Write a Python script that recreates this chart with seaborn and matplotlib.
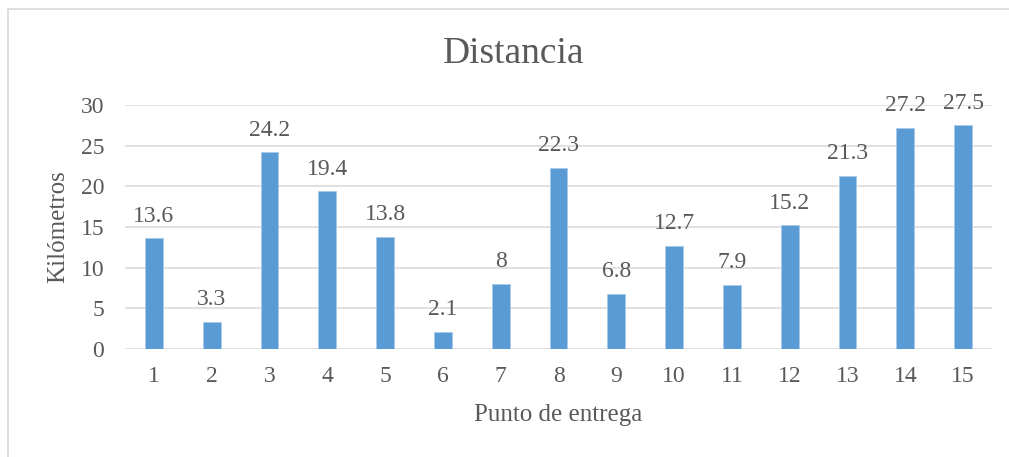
import matplotlib
matplotlib.use("Agg")
import matplotlib.pyplot as plt
from matplotlib.patches import Rectangle
import seaborn as sns
import pandas as pd

# Delivery points and distances (km)
puntos = ["1", "2", "3", "4", "5", "6", "7", "8", "9", "10", "11", "12", "13", "14", "15"]
distancias = [13.6, 3.3, 24.2, 19.4, 13.8, 2.1, 8, 22.3, 6.8, 12.7, 7.9, 15.2, 21.3, 27.2, 27.5]
etiquetas = ["13.6", "3.3", "24.2", "19.4", "13.8", "2.1", "8", "22.3", "6.8", "12.7",
             "7.9", "15.2", "21.3", "27.2", "27.5"]
yticks = [0, 5, 10, 15, 20, 25, 30]

df = pd.DataFrame({"Punto": puntos, "Km": distancias})

sns.set_theme(style="white")
plt.rcParams["font.family"] = ["Liberation Serif", "DejaVu Serif"]

TXT = "#595959"
GRID = "#D9D9D9"
BAR = "#5B9BD5"

W, H = 1009, 457
fig = plt.figure(figsize=(W / 100, H / 100), dpi=100)
fig.patch.set_facecolor("white")

# chart-area outline (top and left edges visible)
fig.patches.append(Rectangle((8 / W, -0.1), 1.2, 1 - 9 / H + 0.1,
                             transform=fig.transFigure, fill=False,
                             edgecolor=GRID, linewidth=1.2))

left, right, top, bottom = 125, 992, 105, 349
ax = fig.add_axes([left / W, 1 - bottom / H, (right - left) / W, (bottom - top) / H])

sns.barplot(data=df, x="Punto", y="Km", color=BAR, saturation=1, width=0.31,
            edgecolor="#A9C9EA", linewidth=0.6, ax=ax, zorder=3)

ax.set_ylim(0, 30)
ax.set_xlim(-0.5, len(puntos) - 0.5)
ax.set_yticks(yticks)
ax.set_yticklabels([str(t) for t in yticks])
for y in yticks:
    ax.axhline(y, color=GRID, linewidth=1.1, zorder=1)

for s in ax.spines.values():
    s.set_visible(False)
ax.tick_params(axis="both", length=0, labelsize=17, colors=TXT)
ax.tick_params(axis="y", pad=15)
ax.tick_params(axis="x", pad=12)

for i, (v, lab) in enumerate(zip(distancias, etiquetas)):
    ax.annotate(lab, (i, v), xytext=(0, 12), textcoords="offset points",
                ha="center", va="baseline", fontsize=17, color=TXT)

ax.set_xlabel("Punto de entrega", fontsize=18, color=TXT)
ax.set_ylabel("Kilómetros", fontsize=18, color=TXT)
ax.yaxis.label.set_verticalalignment("center")
ax.yaxis.set_label_coords((58 - left) / (right - left), 0.5)
ax.xaxis.label.set_verticalalignment("center")
ax.xaxis.set_label_coords(0.5, -(415 - bottom) / (bottom - top))

fig.text(514 / W, 1 - 63 / H, "Distancia", ha="center", va="baseline",
         fontsize=27, color=TXT)

fig.savefig("out.png", dpi=100, facecolor="white")
